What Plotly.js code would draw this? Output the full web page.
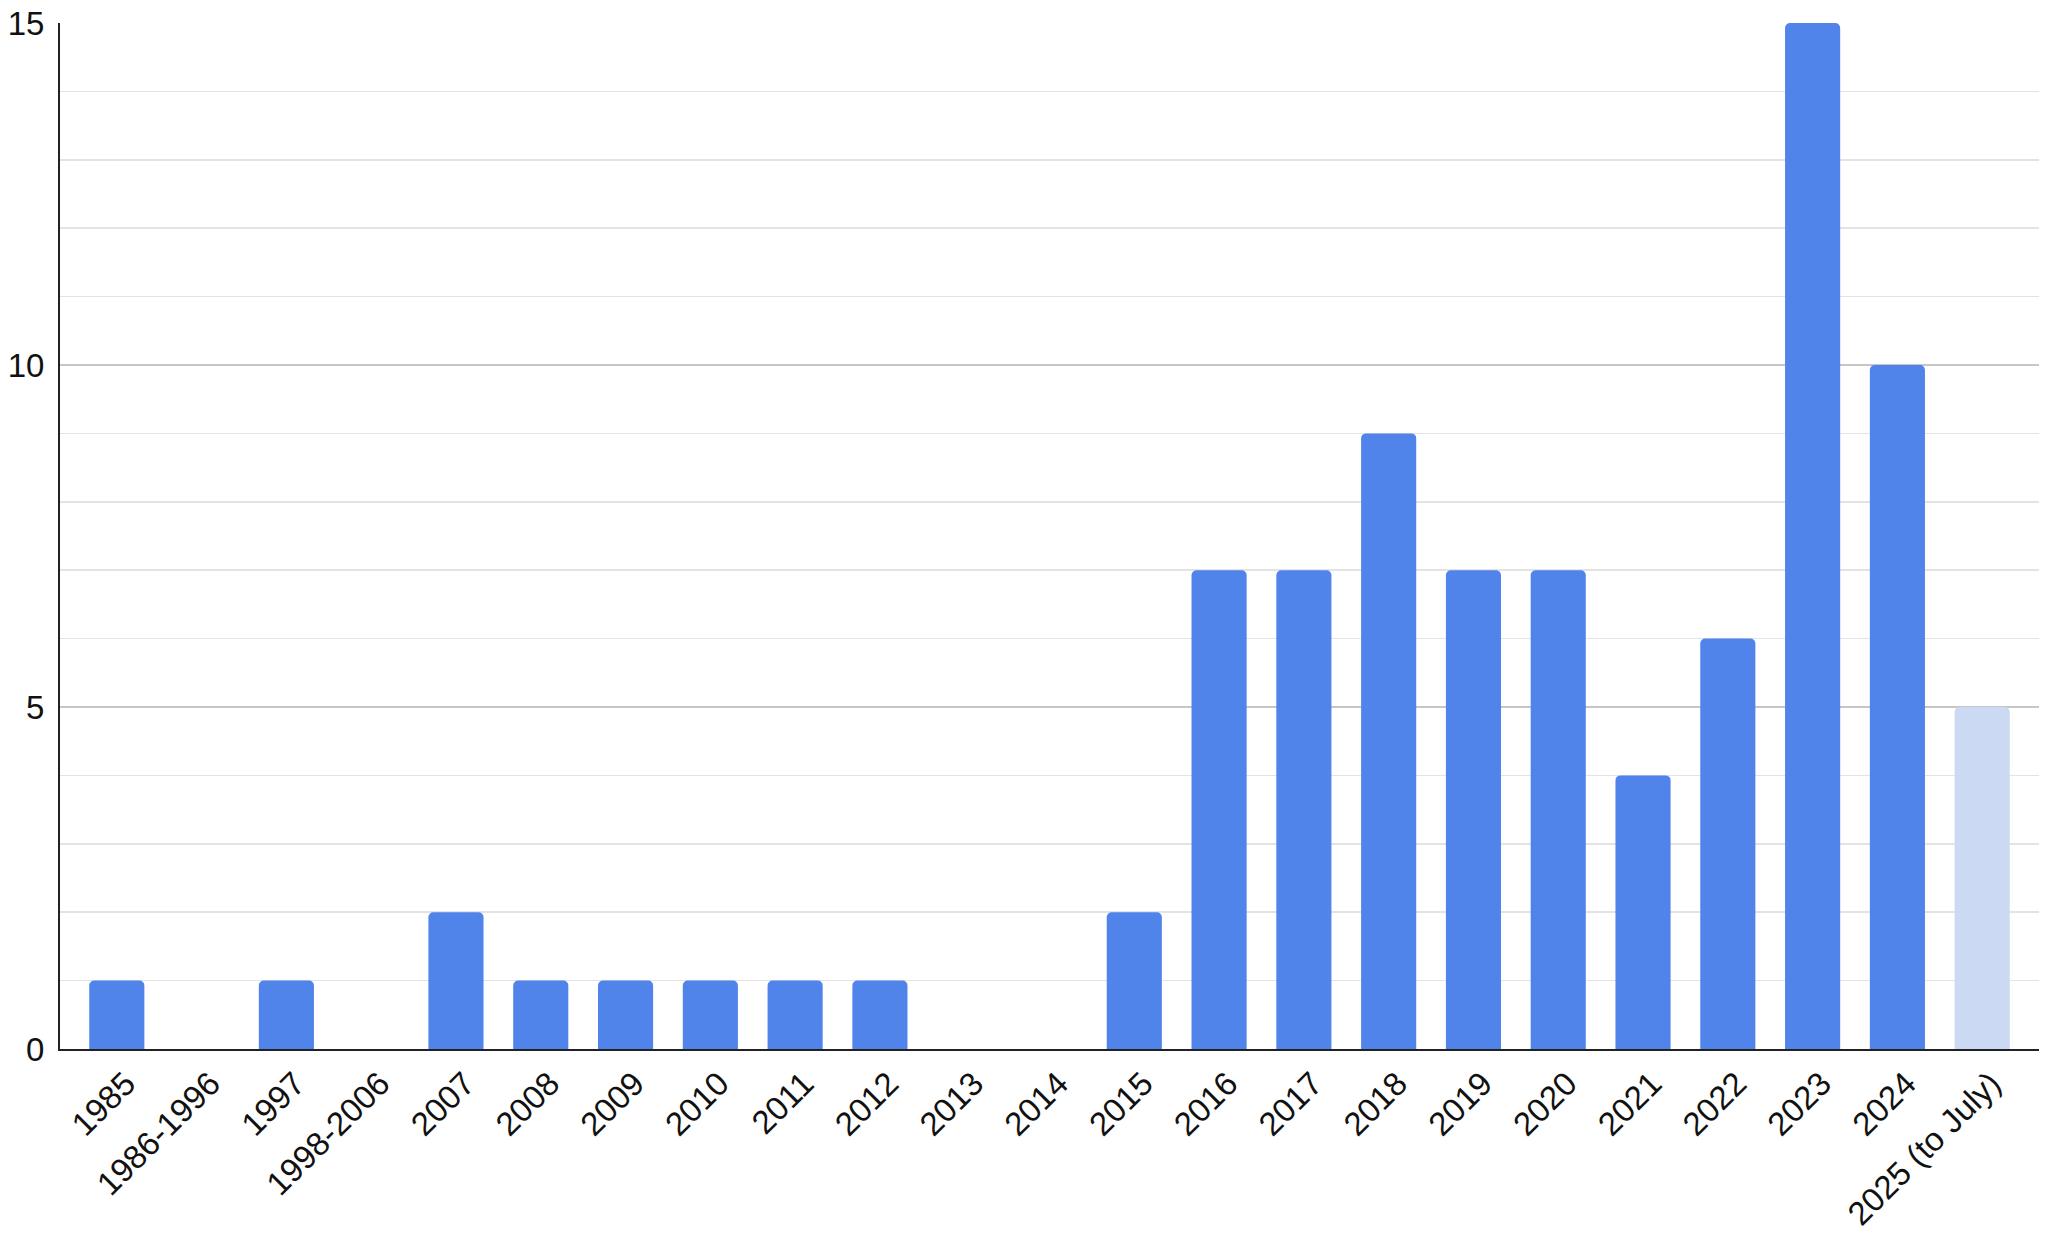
<!DOCTYPE html>
<html>
<head>
<meta charset="utf-8">
<script src="https://cdn.plot.ly/plotly-3.0.1.min.js"></script>
<style>html,body{margin:0;padding:0;background:#fff;}#chart{width:2050px;height:1238px;}</style>
</head>
<body>
<div id="chart"></div>
<script>
const categories = ["1985","1986-1996","1997","1998-2006","2007","2008","2009","2010","2011","2012","2013","2014","2015","2016","2017","2018","2019","2020","2021","2022","2023","2024","2025 (to July)"];
const counts = [1,0,1,0,2,1,1,1,1,1,0,0,2,7,7,9,7,7,4,6,15,10,5];
const yTicks = [0,5,10,15];

const fullColor = "#5184ea";
const partialColor = "#cbd9f3";
const colors = categories.map((c, i) => i === categories.length - 1 ? partialColor : fullColor);

const trace = {
  type: "bar",
  x: categories,
  y: counts,
  marker: {color: colors, cornerradius: 5, line: {width: 0}},
  cliponaxis: false,
  hoverinfo: "x+y"
};

const font = {family: "Liberation Sans, Arial, sans-serif", size: 33, color: "#111"};

const layout = {
  width: 2050,
  height: 1238,
  margin: {l: 60, r: 11, t: 23, b: 189, pad: 0},
  paper_bgcolor: "#fff",
  plot_bgcolor: "#fff",
  showlegend: false,
  bargap: 0.35,
  font: font,
  xaxis: {
    type: "category",
    range: [-0.67, 22.67],
    tickangle: -45,
    tickfont: font,
    ticklabelshift: 9,
    showline: true,
    linecolor: "#222",
    linewidth: 2,
    showgrid: false,
    zeroline: false,
    ticks: "",
    automargin: false,
    fixedrange: true
  },
  yaxis: {
    range: [0, 15],
    tickvals: yTicks,
    ticktext: yTicks.map(String),
    tickfont: font,
    showline: true,
    linecolor: "#222",
    linewidth: 2,
    showgrid: true,
    gridcolor: "#c6c6c6",
    gridwidth: 2,
    zeroline: false,
    ticks: "",
    ticklabelstandoff: 7,
    automargin: false,
    minor: {dtick: 1, showgrid: true, gridcolor: "#e3e3e3", gridwidth: 1.5, ticks: ""},
    fixedrange: true
  }
};

Plotly.newPlot("chart", [trace], layout, {displayModeBar: false, staticPlot: true});
</script>
</body>
</html>
